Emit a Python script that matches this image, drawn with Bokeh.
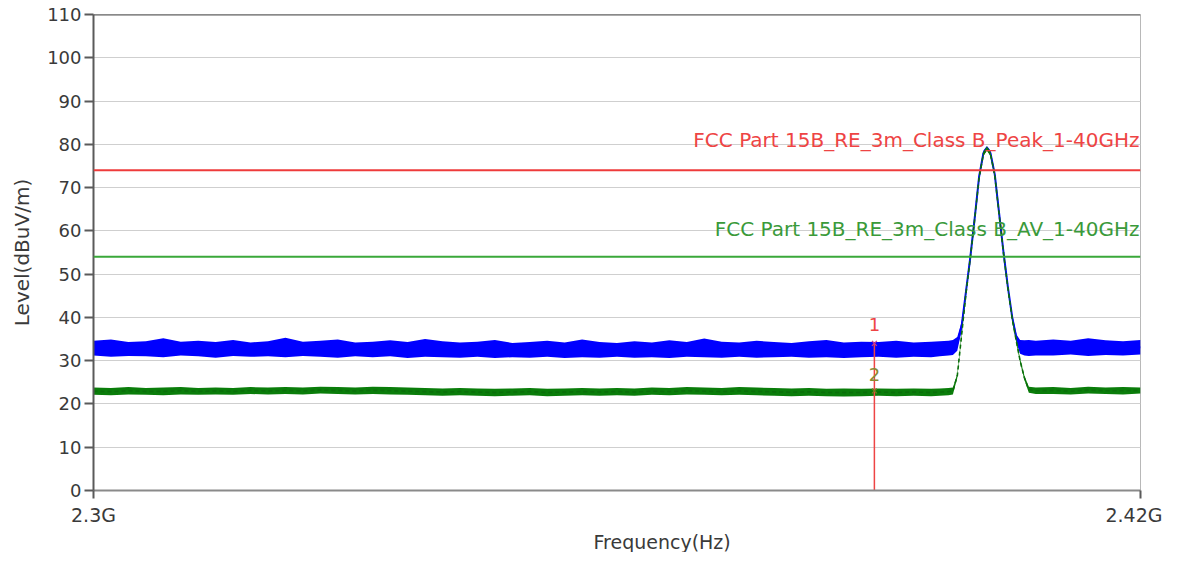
from bokeh.plotting import figure
from bokeh.models import Range1d, FixedTicker, Span, Label, ColumnDataSource, Title
from bokeh.embed import file_html
from bokeh.resources import INLINE

# ---------------- data ----------------
# left noise floor, 2.300 .. 2.396 GHz
freq_left = [2.300, 2.302, 2.304, 2.306, 2.308, 2.310, 2.312, 2.314, 2.316, 2.318,
             2.320, 2.322, 2.324, 2.326, 2.328, 2.330, 2.332, 2.334, 2.336, 2.338,
             2.340, 2.342, 2.344, 2.346, 2.348, 2.350, 2.352, 2.354, 2.356, 2.358,
             2.360, 2.362, 2.364, 2.366, 2.368, 2.370, 2.372, 2.374, 2.376, 2.378,
             2.380, 2.382, 2.384, 2.386, 2.388, 2.390, 2.392, 2.394, 2.396]
peak_hi_left = [34.6, 34.9, 34.3, 34.5, 35.2, 34.4, 34.6, 34.3, 34.8, 34.2,
                34.5, 35.3, 34.4, 34.6, 34.9, 34.2, 34.4, 34.7, 34.3, 35.0,
                34.5, 34.2, 34.4, 34.8, 34.1, 34.3, 34.6, 34.2, 34.9, 34.3,
                34.1, 34.5, 34.2, 34.7, 34.3, 35.1, 34.4, 34.2, 34.6, 34.3,
                34.1, 34.5, 34.8, 34.2, 34.4, 34.3, 34.6, 34.2, 34.4]
peak_lo_left = [31.2, 30.9, 31.1, 31.0, 30.8, 31.2, 31.0, 30.7, 31.1, 30.9,
                31.0, 30.8, 31.1, 30.9, 30.7, 31.0, 30.8, 31.0, 30.6, 30.9,
                30.8, 30.7, 30.9, 30.6, 30.8, 30.7, 30.9, 30.6, 30.8, 30.7,
                30.9, 30.7, 30.8, 30.6, 30.9, 30.8, 30.7, 30.9, 30.7, 30.8,
                30.9, 30.7, 30.8, 30.6, 30.8, 30.9, 30.7, 30.9, 30.8]
avg_hi_left = [23.8, 23.7, 23.9, 23.7, 23.8, 23.9, 23.7, 23.8, 23.7, 23.9,
               23.8, 23.9, 23.8, 24.0, 23.9, 23.8, 24.0, 23.9, 23.8, 23.7,
               23.6, 23.7, 23.6, 23.5, 23.6, 23.7, 23.5, 23.6, 23.7, 23.6,
               23.7, 23.6, 23.8, 23.7, 23.9, 23.8, 23.7, 23.9, 23.8, 23.7,
               23.6, 23.7, 23.5, 23.6, 23.5, 23.6, 23.5, 23.6, 23.5]
avg_lo_left = [22.1, 22.0, 22.2, 22.1, 22.0, 22.2, 22.1, 22.2, 22.1, 22.3,
               22.2, 22.3, 22.2, 22.4, 22.3, 22.2, 22.3, 22.2, 22.1, 22.0,
               21.9, 22.0, 21.9, 21.8, 21.9, 22.0, 21.8, 21.9, 22.0, 21.9,
               22.0, 21.9, 22.1, 22.0, 22.2, 22.1, 22.0, 22.1, 22.0, 21.9,
               21.8, 21.9, 21.8, 21.7, 21.8, 21.9, 21.8, 21.9, 21.8]

# signal peak region
freq_peak = [2.3970, 2.3980, 2.3985, 2.3990, 2.3995, 2.4000, 2.4005, 2.4010,
             2.4015, 2.4020, 2.4024, 2.4028, 2.4033, 2.4038, 2.4043, 2.4048,
             2.4053, 2.4058, 2.4062, 2.4067, 2.4072, 2.4080]
peak_hi_peak = [34.5, 34.6, 34.8, 35.5, 39.0, 46.8, 54.8, 63.8, 73.2, 78.6, 79.6,
                78.6, 73.6, 64.6, 55.6, 47.6, 40.6, 36.0, 34.8, 34.7, 34.8, 34.6]
peak_lo_peak = [31.0, 31.2, 31.3, 32.3, 37.0, 45.2, 53.2, 62.2, 71.8, 77.4, 78.8,
                77.4, 72.4, 63.4, 54.4, 46.4, 39.4, 34.0, 31.6, 31.2, 31.1, 31.2]
avg_hi_peak = [23.6, 23.7, 23.8, 27.0, 36.5, 46.1, 54.3, 63.3, 72.8, 78.3, 79.5,
               78.3, 73.3, 64.3, 55.3, 47.3, 40.1, 34.7, 30.5, 26.5, 24.0, 23.8]
avg_lo_peak = [21.9, 22.0, 22.2, 26.0, 35.5, 45.1, 53.3, 62.3, 71.8, 77.3, 78.5,
               77.3, 72.3, 63.3, 54.3, 46.3, 39.1, 33.7, 29.5, 25.5, 22.6, 22.3]

# right noise floor
freq_right = [2.410, 2.412, 2.414, 2.416, 2.418, 2.420]
peak_hi_right = [34.9, 34.6, 35.2, 34.7, 34.5, 34.8]
peak_lo_right = [31.2, 31.4, 31.1, 31.3, 31.2, 31.4]
avg_hi_right = [23.9, 23.7, 24.0, 23.8, 23.9, 23.8]
avg_lo_right = [22.3, 22.2, 22.4, 22.3, 22.2, 22.4]

# limits
limit_peak = 74.0
limit_avg = 54.0
limit_peak_text = "FCC Part 15B_RE_3m_Class B_Peak_1-40GHz"
limit_avg_text = "FCC Part 15B_RE_3m_Class B_AV_1-40GHz"

# markers
marker_freq = [2.3895, 2.3895]
marker_level = [34.0, 23.0]
marker_names = ["1", "2"]

x_ticks = [2.30, 2.42]
x_tick_labels = ["2.3G", "2.42G"]
y_ticks = [0, 10, 20, 30, 40, 50, 60, 70, 80, 90, 100, 110]

# ---------------- assemble ----------------
freq = freq_left + freq_peak + freq_right
pk_hi = peak_hi_left + peak_hi_peak + peak_hi_right
pk_lo = peak_lo_left + peak_lo_peak + peak_lo_right
av_hi = avg_hi_left + avg_hi_peak + avg_hi_right
av_lo = avg_lo_left + avg_lo_peak + avg_lo_right
pk_mid = [(a + b) / 2 for a, b in zip(pk_hi, pk_lo)]
av_mid = [(a + b) / 2 for a, b in zip(av_hi, av_lo)]

src = ColumnDataSource(dict(f=freq, pk_hi=pk_hi, pk_lo=pk_lo, av_hi=av_hi,
                            av_lo=av_lo, pk_mid=pk_mid, av_mid=av_mid))

FONT = "DejaVu Sans"
TXT = "#3a3a3a"

p = figure(width=1162, height=552, output_backend="svg", toolbar_location=None,
           x_range=Range1d(2.30, 2.42), y_range=Range1d(0, 110),
           min_border_left=93, min_border_right=22, min_border_top=14,
           min_border_bottom=60)
p.background_fill_color = "white"
p.border_fill_color = "white"
p.outline_line_color = "#b8b8b8"
p.outline_line_width = 1

# grid
p.xgrid.visible = False
p.ygrid.ticker = FixedTicker(ticks=y_ticks)
p.ygrid.grid_line_color = "#cfcfcf"
p.ygrid.grid_line_width = 1

# y axis
ya = p.yaxis[0]
ya.ticker = FixedTicker(ticks=y_ticks)
ya.axis_line_color = "#5a5a5a"
ya.axis_line_width = 2
ya.major_tick_line_color = "#5a5a5a"
ya.major_tick_line_width = 2
ya.major_tick_out = 9
ya.major_tick_in = 0
ya.minor_tick_line_color = None
ya.major_label_text_font = FONT
ya.major_label_text_font_size = "18px"
ya.major_label_text_color = TXT
ya.major_label_standoff = 3
ya.axis_label = "Level(dBuV/m)"
ya.axis_label_text_font = FONT
ya.axis_label_text_font_size = "20px"
ya.axis_label_text_font_style = "normal"
ya.axis_label_text_color = TXT
ya.axis_label_standoff = 10

# x axis
xa = p.xaxis[0]
xa.ticker = FixedTicker(ticks=x_ticks)
xa.major_label_overrides = {x_ticks[0]: x_tick_labels[0], x_ticks[1]: x_tick_labels[1]}
xa.axis_line_color = "#8a8a8a"
xa.axis_line_width = 2
xa.major_tick_line_color = "#5a5a5a"
xa.major_tick_line_width = 2
xa.major_tick_out = 8
xa.major_tick_in = 0
xa.minor_tick_line_color = None
xa.major_label_text_font = FONT
xa.major_label_text_font_size = "19px"
xa.major_label_text_color = TXT
xa.major_label_standoff = 5

# x axis title, offset to where the reference has it
p.add_layout(Title(text="Frequency(Hz)", align="left", offset=500, standoff=0,
                   text_font=FONT, text_font_size="19px", text_font_style="normal",
                   text_color=TXT), "below")

# top border
p.add_layout(Span(location=110, dimension="width", line_color="#5a5a5a", line_width=2))

# limit lines
p.add_layout(Span(location=limit_peak, dimension="width", line_color="#ee3b3b", line_width=2))
p.add_layout(Span(location=limit_avg, dimension="width", line_color="#3aa83a", line_width=2))

# traces
p.varea(x="f", y1="pk_lo", y2="pk_hi", source=src, fill_color="#0000ff", fill_alpha=1.0)
p.line(x="f", y="pk_mid", source=src, line_color="#0000ff", line_width=2)
p.varea(x="f", y1="av_lo", y2="av_hi", source=src, fill_color="#0a7d0a", fill_alpha=1.0)
p.line(x="f", y="av_mid", source=src, line_color="#0a6e0a", line_width=1.6, line_dash="4 3")

# limit labels
p.add_layout(Label(x=2.42, y=81.0, text=limit_peak_text, text_align="right",
                   text_baseline="middle", text_font=FONT, text_font_size="20px",
                   text_color="#ee4444", x_offset=-1))
p.add_layout(Label(x=2.42, y=60.5, text=limit_avg_text, text_align="right",
                   text_baseline="middle", text_font=FONT, text_font_size="20px",
                   text_color="#3a9a3a", x_offset=-1))

# marker line and markers
p.segment(x0=marker_freq[0], y0=0, x1=marker_freq[0], y1=marker_level[0],
          line_color="#ee4444", line_width=1.5)
p.scatter(x=[marker_freq[0]], y=[marker_level[0]], marker="x", size=7,
          line_color="#d03a8a", line_width=1.2)
p.scatter(x=[marker_freq[1]], y=[marker_level[1]], marker="x", size=7,
          line_color="#7a7a20", line_width=1.2)
p.add_layout(Label(x=marker_freq[0], y=marker_level[0] + 4.4, text=marker_names[0],
                   text_align="center", text_baseline="middle", text_font=FONT,
                   text_font_size="18px", text_color="#ee4444"))
p.add_layout(Label(x=marker_freq[1], y=marker_level[1] + 3.7, text=marker_names[1],
                   text_align="center", text_baseline="middle", text_font=FONT,
                   text_font_size="18px", text_color="#8a8a30"))

open("out.html", "w").write(file_html(p, INLINE))
